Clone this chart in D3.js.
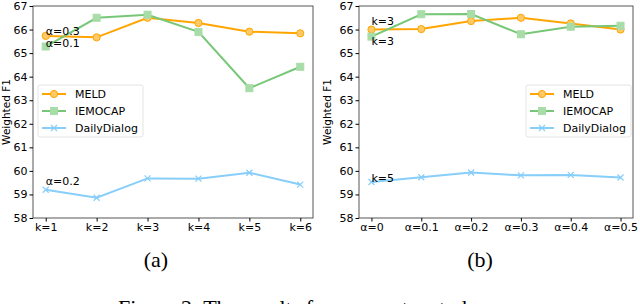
<!DOCTYPE html>
<html>
<head>
<meta charset="utf-8">
<script src="https://cdn.jsdelivr.net/npm/d3@7"></script>
<style>
  body { margin: 0; background: #fff; }
  svg text { font-family: "DejaVu Sans", sans-serif; }
</style>
</head>
<body>
<svg id="chart" width="640" height="304"></svg>
<script>
// panel (a): varying k
var kLabels = ["k=1", "k=2", "k=3", "k=4", "k=5", "k=6"];
var meldK = [65.73, 65.67, 66.5, 66.28, 65.91, 65.84];
var iemocapK = [65.28, 66.5, 66.63, 65.9, 63.51, 64.42];
var dailyK = [59.2, 58.86, 59.68, 59.67, 59.92, 59.42];

// panel (b): varying alpha
var alphaLabels = ["α=0", "α=0.1", "α=0.2", "α=0.3", "α=0.4", "α=0.5"];
var meldA = [66.0, 66.02, 66.36, 66.5, 66.26, 66.0];
var iemocapA = [65.7, 66.65, 66.66, 65.8, 66.12, 66.16];
var dailyA = [59.53, 59.73, 59.93, 59.81, 59.83, 59.72];

var yTicks = [58, 59, 60, 61, 62, 63, 64, 65, 66, 67];
var seriesNames = ["MELD", "IEMOCAP", "DailyDialog"];
var colors = ["#ffa500", "#77c777", "#87cefa"];

var svg = d3.select("#chart");

function drawPanel(opt) {
  var x = d3.scalePoint().domain(opt.labels).range([opt.x0, opt.x1]).padding(0.25);
  var y = d3.scaleLinear().domain([58, 67]).range([218, 6]);
  var g = svg.append("g");

  // frame
  g.append("rect")
    .attr("x", opt.x0).attr("y", 6)
    .attr("width", opt.x1 - opt.x0).attr("height", 212)
    .attr("fill", "none").attr("stroke", "#444").attr("stroke-width", 0.9);

  var ya = g.append("g").attr("transform", "translate(" + opt.x0 + ",0)")
    .call(d3.axisLeft(y).tickValues(yTicks).tickSize(3.5).tickPadding(2));
  ya.select(".domain").remove();
  ya.selectAll("text").attr("font-size", 11).attr("fill", "#000")
    .style("font-family", "DejaVu Sans");

  var xa = g.append("g").attr("transform", "translate(0,218)")
    .call(d3.axisBottom(x).tickSize(3.5).tickPadding(2));
  xa.select(".domain").remove();
  xa.selectAll("text").attr("font-size", 11).attr("fill", "#000")
    .style("font-family", "DejaVu Sans");

  g.append("text")
    .attr("transform", "translate(" + opt.ylabX + ",112) rotate(-90)")
    .attr("text-anchor", "middle").attr("font-size", 10.5)
    .text("Weighted F1");

  var line = d3.line().x(function(d, i) { return x(opt.labels[i]); }).y(function(d) { return y(d); });

  opt.series.forEach(function(vals, s) {
    var c = colors[s];
    g.append("path").datum(vals)
      .attr("d", line).attr("fill", "none")
      .attr("stroke", c).attr("stroke-width", 2);
    var pts = g.selectAll(null).data(vals).enter().append("g")
      .attr("transform", function(d, i) { return "translate(" + x(opt.labels[i]) + "," + y(d) + ")"; });
    drawMarker(pts, s, c);
  });

  // annotations
  opt.notes.forEach(function(n) {
    g.append("text").attr("x", x(opt.labels[0])).attr("y", y(n.v) + n.dy)
      .attr("font-size", 11).text(n.t);
  });

  // legend
  var lg = g.append("g").attr("transform", "translate(" + opt.legX + "," + opt.legY + ")");
  lg.append("rect").attr("width", opt.legW).attr("height", 52).attr("rx", 2)
    .attr("fill", "#fff").attr("fill-opacity", 0.85)
    .attr("stroke", "#ddd").attr("stroke-width", 0.8);
  seriesNames.forEach(function(name, s) {
    var yy = 9 + s * 17;
    lg.append("line").attr("x1", 4).attr("x2", 28).attr("y1", yy).attr("y2", yy)
      .attr("stroke", colors[s]).attr("stroke-width", 2);
    var m = lg.append("g").attr("transform", "translate(16," + yy + ")");
    drawMarker(m, s, colors[s]);
    lg.append("text").attr("x", 37).attr("y", yy + 4).attr("font-size", 11).text(name);
  });
}

function drawMarker(sel, s, c) {
  if (s === 0) {
    sel.append("circle").attr("r", 3.6).attr("fill", "#ffc966")
      .attr("stroke", c).attr("stroke-width", 1);
  } else if (s === 1) {
    sel.append("rect").attr("x", -3.5).attr("y", -3.5).attr("width", 7).attr("height", 7)
      .attr("fill", "#a8dca8").attr("stroke", "#a8dca8");
  } else {
    sel.append("path").attr("d", "M-3,-3L3,3M-3,3L3,-3")
      .attr("stroke", c).attr("stroke-width", 1.2);
  }
}

drawPanel({
  labels: kLabels, x0: 33, x1: 313, ylabX: 10,
  series: [meldK, iemocapK, dailyK],
  notes: [{ t: "α=0.3", v: meldK[0], dy: -1 }, { t: "α=0.1", v: iemocapK[0], dy: 0 },
          { t: "α=0.2", v: dailyK[0], dy: -5 }],
  legX: 38, legY: 85, legW: 105
});

drawPanel({
  labels: alphaLabels, x0: 359, x1: 633, ylabX: 331,
  series: [meldA, iemocapA, dailyA],
  notes: [{ t: "k=3", v: meldA[0], dy: -5 }, { t: "k=3", v: iemocapA[0], dy: 8 },
          { t: "k=5", v: dailyA[0], dy: 0 }],
  legX: 526, legY: 85, legW: 105
});

// sub captions
svg.append("text").attr("x", 156).attr("y", 267).attr("text-anchor", "middle")
  .style("font-family", "Liberation Serif").attr("font-size", 22).text("(a)");
svg.append("text").attr("x", 480).attr("y", 267).attr("text-anchor", "middle")
  .style("font-family", "Liberation Serif").attr("font-size", 22).text("(b)");
// figure caption, mostly below the crop edge as in the reference
svg.append("text").attr("x", 118).attr("y", 315)
  .style("font-family", "Liberation Serif").attr("font-size", 22)
  .text("Figure 2: The results for parameter study");
</script>
</body>
</html>
